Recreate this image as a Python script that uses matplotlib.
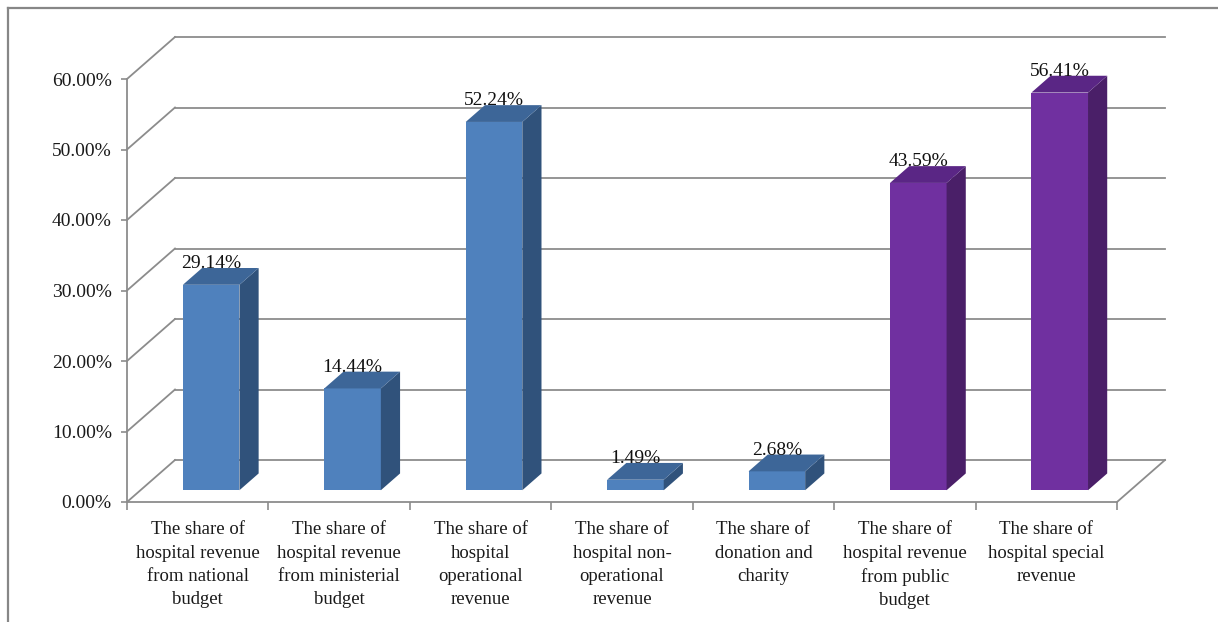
import matplotlib

matplotlib.use("Agg")

import matplotlib.pyplot as plt  # noqa: E402
from matplotlib.lines import Line2D  # noqa: E402
from matplotlib.patches import Polygon  # noqa: E402
from matplotlib.ticker import FixedLocator, PercentFormatter  # noqa: E402

categories = [
    "The share of\nhospital revenue\nfrom national\nbudget",
    "The share of\nhospital revenue\nfrom ministerial\nbudget",
    "The share of\nhospital\noperational\nrevenue",
    "The share of\nhospital non-\noperational\nrevenue",
    "The share of\ndonation and\ncharity",
    "The share of\nhospital revenue\nfrom public\nbudget",
    "The share of\nhospital special\nrevenue",
]
values = [29.14, 14.44, 52.24, 1.49, 2.68, 43.59, 56.41]
groups = ["blue", "blue", "blue", "blue", "blue", "purple", "purple"]
y_ticks = [0, 10, 20, 30, 40, 50, 60]

# face colours (front, top, side) for the pseudo-3d columns
_FACES = {
    "blue": ("#4F81BD", "#3D6698", "#30527B"),
    "purple": ("#7030A0", "#5A2685", "#4A1F68"),
}
_GRID = "#8C8C8C"
_FONT = "Liberation Serif"

W, H = 1218, 622
fig = plt.figure(figsize=(W / 100, H / 100), dpi=100)

# plot box: front floor from x=127..1117 px, 0% at y=502 px, 60% at y=79 px
left, right, base, top = 127, 1117, 502, 79
ax = fig.add_axes([left / W, (H - base) / H, (right - left) / W, (base - top) / H])
ax.set_xlim(-0.5, len(values) - 0.5)
ax.set_ylim(0, 60)

# depth of the floor/wall in data units (48 px right, 42 px up)
px_x = (right - left) / len(values)
px_y = (base - top) / 60
dx, dy = 48 / px_x, 42 / px_y
# columns sit 28% into the depth and are 40% deep
sx, sy = 0.28 * dx, 0.28 * dy
bdx, bdy = 0.40 * dx, 0.40 * dy
bw = 0.40

x0, x1 = -0.5, len(values) - 0.5
for k in y_ticks:
    ax.add_line(Line2D([x0, x0 + dx], [k, k + dy], color=_GRID, lw=1.3, clip_on=False, zorder=1))
    ax.add_line(Line2D([x0 + dx, x1 + dx], [k + dy, k + dy], color=_GRID, lw=1.3, clip_on=False, zorder=1))
ax.add_line(Line2D([x1, x1 + dx], [0, dy], color=_GRID, lw=1.3, clip_on=False, zorder=1))

xs = [i + sx for i in range(len(values))]
fronts = [_FACES[g][0] for g in groups]
ax.bar(xs, values, width=bw, bottom=sy, color=fronts, zorder=3, clip_on=False)

for x, v, g in zip(xs, values, groups):
    _, top_c, side_c = _FACES[g]
    xl, xr = x - bw / 2, x + bw / 2
    yb, yt = sy, sy + v
    side = Polygon([(xr, yb), (xr + bdx, yb + bdy), (xr + bdx, yt + bdy), (xr, yt)],
                   closed=True, facecolor=side_c, edgecolor="none", zorder=3, clip_on=False)
    cap = Polygon([(xl, yt), (xr, yt), (xr + bdx, yt + bdy), (xl + bdx, yt + bdy)],
                  closed=True, facecolor=top_c, edgecolor="none", zorder=3, clip_on=False)
    ax.add_patch(side)
    ax.add_patch(cap)
    ax.text(x, yt + bdy + 0.6, f"{v:.2f}%", ha="center", va="center",
            family=_FONT, fontsize=14, color="#111111", zorder=5, clip_on=False)

# axes: left and bottom spines only
for name in ("top", "right"):
    ax.spines[name].set_visible(False)
for name in ("left", "bottom"):
    ax.spines[name].set_color(_GRID)
    ax.spines[name].set_linewidth(1.3)
ax.set_facecolor("none")

ax.yaxis.set_major_locator(FixedLocator(y_ticks))
ax.yaxis.set_major_formatter(PercentFormatter(decimals=2))
ax.tick_params(axis="y", direction="out", length=4, width=1.2, color=_GRID, pad=7)

ax.xaxis.set_major_locator(FixedLocator([i - 0.5 for i in range(len(values) + 1)]))
ax.xaxis.set_minor_locator(FixedLocator(list(range(len(values)))))
ax.set_xticklabels([])
ax.set_xticklabels(categories, minor=True)
ax.tick_params(axis="x", which="major", direction="out", length=6, width=1.2, color=_GRID)
ax.tick_params(axis="x", which="minor", length=0, pad=14)

for lab in ax.get_yticklabels():
    lab.set_family(_FONT)
    lab.set_fontsize(14)
    lab.set_color("#1a1a1a")
for lab in ax.get_xticklabels(minor=True):
    lab.set_family(_FONT)
    lab.set_fontsize(13.5)
    lab.set_color("#1a1a1a")
    lab.set_linespacing(1.47)
    lab.set_ha("center")

# outer chart frame, cropped at right and bottom
fig.add_artist(Line2D([8 / W, 8 / W], [0, 1 - 8 / H], color="#878787", lw=1.6))
fig.add_artist(Line2D([8 / W, 1], [1 - 8 / H, 1 - 8 / H], color="#878787", lw=1.6))

fig.savefig("out.png", dpi=100)
